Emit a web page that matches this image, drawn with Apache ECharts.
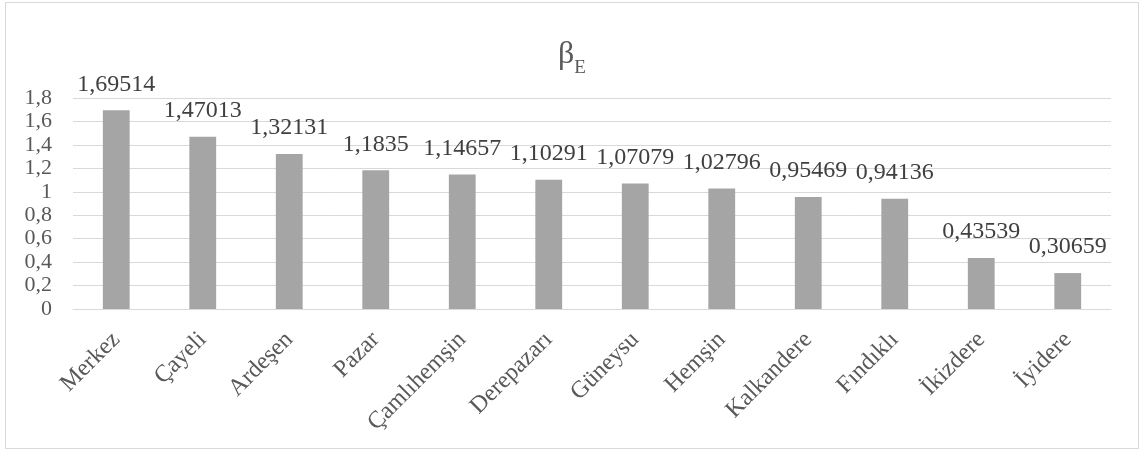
<!DOCTYPE html>
<html>
<head>
<meta charset="utf-8">
<script src="https://cdn.jsdelivr.net/npm/echarts@6/dist/echarts.min.js"></script>
<style>
  html, body { margin: 0; padding: 0; background: #fff; }
  #frame { position: absolute; left: 5px; top: 2px; width: 1134px; height: 447px; border: 1px solid #d9d9d9; box-sizing: border-box; }
  #chart { position: absolute; left: 0; top: 0; width: 1144px; height: 450px; }
</style>
</head>
<body>
<div id="frame"></div>
<div id="chart"></div>
<script>
// District names (Rize province) and their β_E coefficients
const districts = ['Merkez', 'Çayeli', 'Ardeşen', 'Pazar', 'Çamlıhemşin', 'Derepazarı', 'Güneysu', 'Hemşin', 'Kalkandere', 'Fındıklı', 'İkizdere', 'İyidere'];
const betaE = [1.69514, 1.47013, 1.32131, 1.1835, 1.14657, 1.10291, 1.07079, 1.02796, 0.95469, 0.94136, 0.43539, 0.30659];
const yTicks = { min: 0, max: 1.8, step: 0.2 };

const serif = '"Liberation Serif", "Times New Roman", serif';
const comma = v => String(v).replace('.', ',');

const chart = echarts.init(document.getElementById('chart'), null, { renderer: 'canvas' });
chart.setOption({
  animation: false,
  backgroundColor: 'transparent',
  title: {
    text: '{b|β}{e|E}',
    left: 'center',
    top: 34,
    textStyle: {
      fontWeight: 'normal',
      rich: {
        b: { fontFamily: serif, fontSize: 32, fontWeight: 'normal', color: '#595959', verticalAlign: 'bottom' },
        e: { fontFamily: serif, fontSize: 19, fontWeight: 'normal', color: '#595959', verticalAlign: 'bottom', padding: [0, 0, -7, 0] }
      }
    }
  },
  grid: { left: 73, right: 33, top: 98, bottom: 141, containLabel: false },
  xAxis: {
    type: 'category',
    data: districts,
    axisLine: { lineStyle: { color: '#d9d9d9', width: 1 } },
    axisTick: { show: false },
    axisLabel: {
      rotate: 45,
      margin: 27,
      interval: 0,
      fontFamily: serif,
      fontSize: 24,
      color: '#595959'
    }
  },
  yAxis: {
    type: 'value',
    min: yTicks.min,
    max: yTicks.max,
    interval: yTicks.step,
    axisLine: { show: false },
    axisTick: { show: false },
    splitLine: { lineStyle: { color: '#d9d9d9', width: 1 } },
    axisLabel: {
      margin: 21,
      showMinLabel: true,
      showMaxLabel: true,
      fontFamily: serif,
      fontSize: 22,
      color: '#595959',
      formatter: v => comma(+v.toFixed(1))
    }
  },
  series: [{
    type: 'bar',
    data: betaE,
    barWidth: '31%',
    itemStyle: { color: '#a5a5a5' },
    label: {
      show: true,
      position: 'top',
      distance: 14,
      fontFamily: serif,
      fontSize: 24,
      color: '#404040',
      formatter: p => comma(p.value)
    }
  }]
});
</script>
</body>
</html>
